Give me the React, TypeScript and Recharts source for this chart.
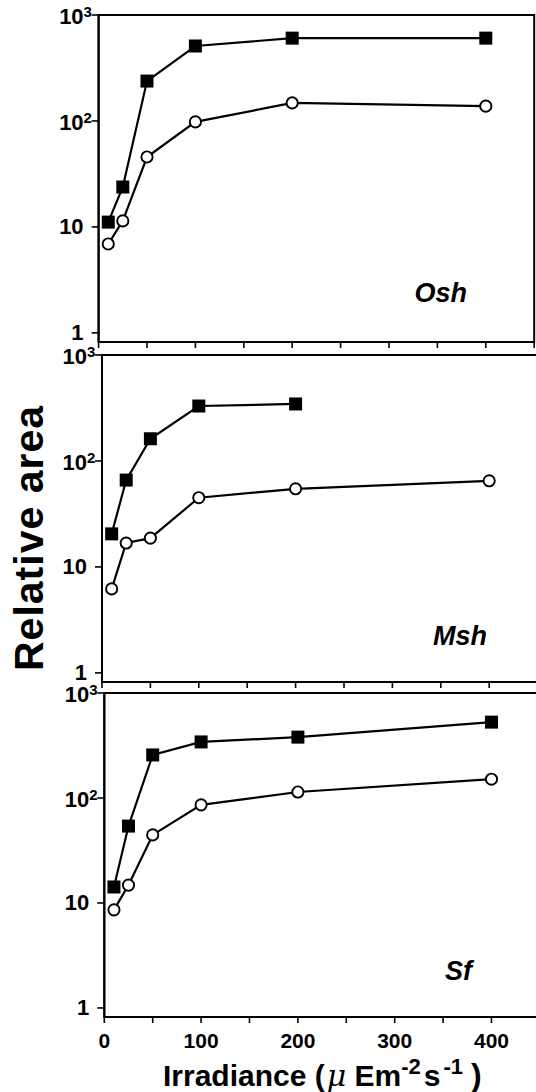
import React from 'react';
import { LineChart, Line, XAxis, YAxis, ReferenceArea } from 'recharts';

const irradiance = [10, 25, 50, 100, 200, 400];
const oshFilled = [11.1, 23.8, 238, 510, 605, 605];
const oshOpen = [6.9, 11.4, 45.7, 98, 148, 138];
const mshFilled = [20.5, 66, 162, 330, 345, null];
const mshOpen = [6.2, 16.8, 18.7, 45, 54.6, 65];
const sfFilled = [14.2, 54, 257, 342, 380, 528];
const sfOpen = [8.6, 14.8, 44.5, 86, 114, 151];

const xTicks = [0, 50, 100, 150, 200, 250, 300, 350, 400, 450];
const xTickLabels = [0, 100, 200, 300, 400];
const yTicks = [1, 10, 100, 1000];
const yDomain: [number, number] = [0.82, 1000];
const xDomain: [number, number] = [0, 450];

const FONT = "'Liberation Sans', Arial, Helvetica, sans-serif";
const PLOT_W = 435.6;

const txt = { fontFamily: FONT, fontWeight: 700, fill: '#000' } as const;

function XTick(props: any) {
  const { x, y, payload, show } = props;
  if (!show || !xTickLabels.includes(payload.value)) return <g />;
  return (
    <text x={x} y={y + 23} textAnchor="middle" fontSize={21} {...txt}>
      {payload.value}
    </text>
  );
}

function YTick(props: any) {
  const { x, y, payload } = props;
  const v = payload.value;
  if (v >= 100) {
    const exp = v === 1000 ? '3' : '2';
    return (
      <g>
        <text x={x} y={y + 9} textAnchor="end" fontSize={22} {...txt}>10</text>
        <text x={x} y={y + 2} textAnchor="start" fontSize={15} {...txt}>{exp}</text>
      </g>
    );
  }
  return (
    <text x={x} y={y + 7} textAnchor="end" fontSize={22} {...txt}>{String(v)}</text>
  );
}

function SquareDot(props: any) {
  const { cx, cy, index } = props;
  if (cx == null || cy == null || props.value == null) return <g key={`sq-${index}`} />;
  return <rect key={`sq-${index}`} x={cx - 6.5} y={cy - 6.5} width={13} height={13} fill="#000" />;
}

function CircleDot(props: any) {
  const { cx, cy, index } = props;
  if (cx == null || cy == null || props.value == null) return <g key={`ci-${index}`} />;
  return <circle key={`ci-${index}`} cx={cx} cy={cy} r={5.6} fill="#fff" stroke="#000" strokeWidth={1.9} />;
}

interface PanelProps {
  top: number;
  plotLeft: number;
  plotTop: number;
  plotHeight: number;
  bottom: number;
  filled: (number | null)[];
  open: (number | null)[];
  showX: boolean;
}

function Panel({ top, plotLeft, plotTop, plotHeight, bottom, filled, open, showX }: PanelProps) {
  const data = irradiance.map((x, i) => ({ x, filled: filled[i], open: open[i] }));
  const right = 8;
  const width = plotLeft + PLOT_W + right;
  const height = plotTop + plotHeight + bottom;
  return (
    <div style={{ position: 'absolute', left: 0, top }}>
      <LineChart width={width} height={height} data={data} margin={{ top: plotTop, right, bottom: 0, left: 0 }}>
        <XAxis
          dataKey="x"
          type="number"
          domain={xDomain}
          ticks={xTicks}
          interval={0}
          allowDataOverflow
          height={bottom}
          tickSize={6}
          tickLine={{ stroke: '#000', strokeWidth: 1.6 }}
          axisLine={{ stroke: '#000', strokeWidth: 2 }}
          tick={(p: any) => <XTick {...p} show={showX} />}
        />
        <YAxis
          type="number"
          scale="log"
          domain={yDomain}
          allowDataOverflow
          ticks={yTicks}
          interval={0}
          width={plotLeft}
          tickSize={7}
          tickMargin={8}
          tickLine={{ stroke: '#000', strokeWidth: 1.6 }}
          axisLine={{ stroke: '#000', strokeWidth: 2 }}
          tick={(p: any) => <YTick {...p} />}
        />
        <ReferenceArea x1={0} x2={450} y1={0.82} y2={1000} fill="none" stroke="#000" strokeWidth={2} ifOverflow="visible" />
        <Line
          dataKey="filled"
          type="linear"
          stroke="#000"
          strokeWidth={2.2}
          dot={SquareDot}
          activeDot={false}
          isAnimationActive={false}
        />
        <Line
          dataKey="open"
          type="linear"
          stroke="#000"
          strokeWidth={2.2}
          dot={CircleDot}
          activeDot={false}
          isAnimationActive={false}
        />
      </LineChart>
    </div>
  );
}

export default function App() {
  return (
    <div style={{ position: 'absolute', left: 0, top: 0, width: 536, height: 1092, overflow: 'hidden', background: '#fff' }}>
      <Panel top={0} plotLeft={98.6} plotTop={15} plotHeight={327} bottom={8} filled={oshFilled} open={oshOpen} showX={false} />
      <Panel top={340} plotLeft={102} plotTop={15} plotHeight={327} bottom={8} filled={mshFilled} open={mshOpen} showX={false} />
      <Panel top={680} plotLeft={104.3} plotTop={13} plotHeight={324} bottom={40} filled={sfFilled} open={sfOpen} showX={true} />
      <svg width={536} height={1092} style={{ position: 'absolute', left: 0, top: 0, pointerEvents: 'none' }}>
        <text transform="translate(43,538) rotate(-90)" textAnchor="middle" fontSize={41} letterSpacing={1} {...txt}>
          Relative area
        </text>
        <text x={467} y={302} textAnchor="end" fontSize={27} fontStyle="italic" {...txt}>Osh</text>
        <text x={487} y={645} textAnchor="end" fontSize={27} fontStyle="italic" {...txt}>Msh</text>
        <text x={472} y={980} textAnchor="end" fontSize={27} fontStyle="italic" {...txt}>Sf</text>
        <text x={163} y={1086} fontSize={30} {...txt}>
          {'Irradiance ('}
          <tspan dx={2} fontStyle="italic" fontFamily="'DejaVu Serif', serif" fontWeight={400}>μ</tspan>
          {' Em'}
          <tspan dy={-12} fontSize={22}>-2</tspan>
          <tspan dx={3} dy={12}>s</tspan>
          <tspan dx={3} dy={-12} fontSize={22}>-1</tspan>
          <tspan dx={8} dy={12} fontSize={32}>)</tspan>
        </text>
      </svg>
    </div>
  );
}
